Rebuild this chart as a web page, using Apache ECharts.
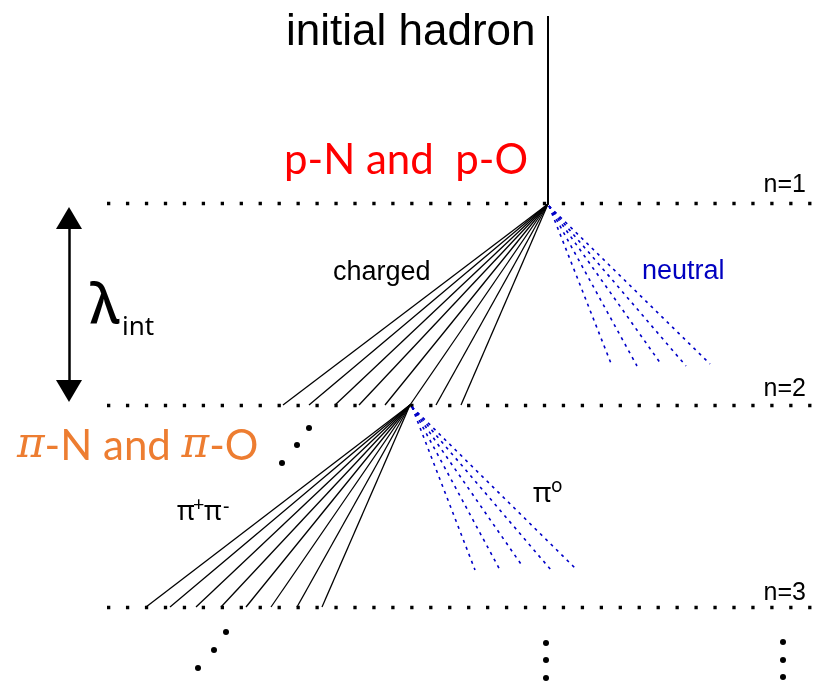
<!DOCTYPE html>
<html><head><meta charset="utf-8">
<script src="https://cdn.jsdelivr.net/npm/echarts@6/dist/echarts.min.js"></script>
<style>html,body{margin:0;padding:0;background:#fff}#c{width:815px;height:682px}</style>
</head><body><div id="c"></div>
<script>
// ---- diagram data (pixel-like coordinate space 0..815 x 0..682, y downward) ----
const levelLabels = ['n=1', 'n=2', 'n=3'];
const levelY = [203, 405, 607];
const levelXRange = [107, 812];
const hadronTop = [548, 16];
const vertex1 = [548, 204];
const vertex2 = [410, 405];
const charged1EndX = [283, 309, 335, 359, 385, 410, 436, 461];   // end on n=2
const neutral1Ends = [[612, 366], [637, 366], [661, 364], [686, 366], [710, 364]];
const charged2EndX = [146, 170, 196, 221, 246, 271, 297, 322];   // end on n=3
const neutral2Ends = [[475, 570], [500, 570], [523, 567], [551, 570], [575, 568]];
const ellipsisDots = [
  [309, 428], [297, 445], [282, 463],
  [226, 632], [214, 650], [198, 668],
  [546, 643], [546, 660], [546, 678],
  [783, 642], [783, 660], [783, 677]
];
const arrowTips = [[69, 207], [69, 402]];

const texts = [
  {t: 'initial hadron', x: 286, y: 33, font: 'Liberation Sans', size: 44, color: '#000'},
  {t: 'p-N and  p-O', x: 284, y: 160, font: 'Lato', size: 42, color: '#ff0000'},
  {t: 'charged', x: 333, y: 273, font: 'Liberation Sans', size: 27, color: '#000'},
  {t: 'neutral', x: 642, y: 272, font: 'Liberation Sans', size: 27, color: '#0000c0'},
  {t: 'λ', x: 90, y: 307, font: 'Noto Sans', size: 55, color: '#000', weight: 500},
  {t: 'int', x: 122, y: 328, font: 'Noto Sans', size: 26, color: '#000'},
  {t: 'π', x: 177, y: 512, font: 'Noto Sans', size: 27, color: '#000'},
  {t: '+', x: 193, y: 505, font: 'Noto Sans', size: 20, color: '#000'},
  {t: 'π', x: 204, y: 512, font: 'Noto Sans', size: 27, color: '#000'},
  {t: '-', x: 223, y: 507, font: 'Noto Sans', size: 20, color: '#000'},
  {t: 'π', x: 533, y: 494, font: 'Noto Sans', size: 28, color: '#000'},
  {t: 'o', x: 551, y: 487, font: 'Noto Sans', size: 19, color: '#000'}
];
const pionTitle = {x: 17, y: 446, size: 42, color: '#ED7D31'};

// ---- build ----
const chart = echarts.init(document.getElementById('c'), null, {renderer: 'canvas'});

const seg = (a, b) => ({coords: [a, b]});
const dottedLines = levelY.map(y => seg([levelXRange[0], y], [levelXRange[1], y]));
const chargedLines = charged1EndX.map(x => seg(vertex1, [x, levelY[1]]))
  .concat(charged2EndX.map(x => seg(vertex2, [x, levelY[2]])));
const neutralLines = neutral1Ends.map(p => seg([vertex1[0] + 1, vertex1[1] + 2], p))
  .concat(neutral2Ends.map(p => seg([vertex2[0] + 2, vertex2[1] + 2], p)));

const textData = texts.map(o => ({
  value: [o.x, o.y],
  label: {formatter: o.t, fontFamily: o.font, fontSize: o.size, color: o.color, fontWeight: o.weight || 'normal'}
}));
textData.push({
  value: [pionTitle.x, pionTitle.y],
  label: {
    formatter: '{p|π}{t|-N and }{p|π}{t|-O}',
    rich: {
      p: {fontFamily: 'DejaVu Serif', fontStyle: 'italic', fontSize: pionTitle.size, color: pionTitle.color},
      t: {fontFamily: 'Lato', fontSize: pionTitle.size, color: pionTitle.color}
    }
  }
});
levelLabels.forEach((s, i) => textData.push({
  value: [806, levelY[i] - 18 + i * 2],
  label: {formatter: s, fontFamily: 'Liberation Sans', fontSize: 25, color: '#000', align: 'right'}
}));

const L = (data, style) => ({type: 'lines', coordinateSystem: 'cartesian2d', data: data,
  lineStyle: Object.assign({opacity: 1}, style), silent: true});

chart.setOption({
  animation: false,
  backgroundColor: '#fff',
  grid: {left: 0, right: 0, top: 0, bottom: 0},
  xAxis: {type: 'value', min: 0, max: 815, show: false},
  yAxis: {type: 'value', min: 0, max: 682, inverse: true, show: false},
  series: [
    L(dottedLines, {color: '#000', width: 3.3, type: [3.3, 15.65], cap: 'butt'}),
    L([seg(hadronTop, vertex1)], {color: '#000', width: 2}),
    L(chargedLines, {color: '#000', width: 1.3}),
    L(neutralLines, {color: '#0000c8', width: 1.6, type: [3, 4.5]}),
    L([seg([arrowTips[0][0], arrowTips[0][1] + 15], [arrowTips[1][0], arrowTips[1][1] - 15])], {color: '#000', width: 2.5}),
    {type: 'scatter', data: [
        {value: [arrowTips[0][0], arrowTips[0][1] + 11], symbolRotate: 0},
        {value: [arrowTips[1][0], arrowTips[1][1] - 11], symbolRotate: 180}],
     symbol: 'triangle', symbolSize: [26, 22], itemStyle: {color: '#000', opacity: 1}},
    {type: 'scatter', data: ellipsisDots, symbol: 'circle', symbolSize: 6, itemStyle: {color: '#000', opacity: 1}},
    {type: 'scatter', data: textData, symbolSize: 0, itemStyle: {opacity: 1},
     label: {show: true, position: 'inside', align: 'left', verticalAlign: 'middle'}}
  ]
});
</script></body></html>
